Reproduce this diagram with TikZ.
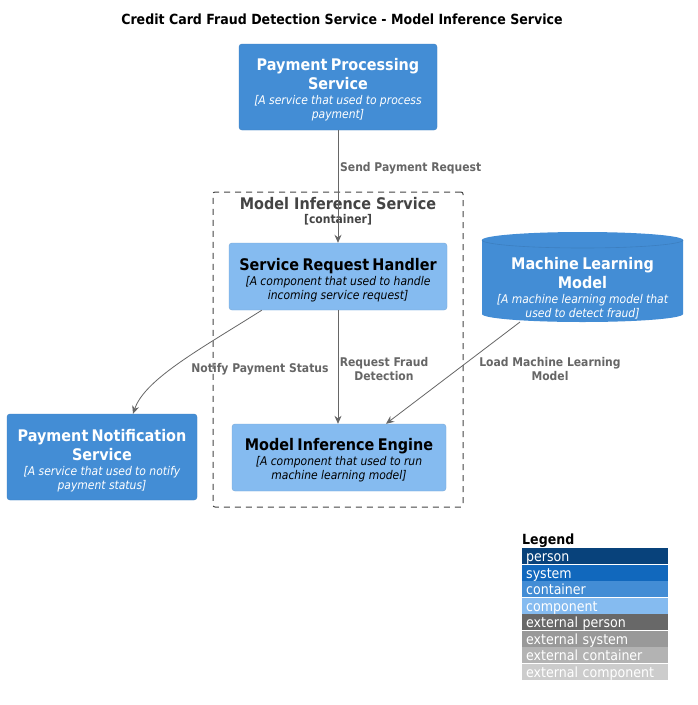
\documentclass[tikz,border=0pt]{standalone}
\usepackage{fontspec}
\setmainfont{DejaVu Sans}[FakeStretch=0.9]
\usetikzlibrary{arrows.meta}
\definecolor{contfill}{HTML}{438DD5}
\definecolor{contline}{HTML}{3C7FC0}
\definecolor{compfill}{HTML}{85BBF0}
\definecolor{compline}{HTML}{78A8D8}
\definecolor{arrowc}{HTML}{666666}
\definecolor{bound}{HTML}{444444}
\definecolor{lgperson}{HTML}{08427B}
\definecolor{lgsystem}{HTML}{1168BD}
\definecolor{lgextperson}{HTML}{686868}
\definecolor{lgextsystem}{HTML}{999999}
\definecolor{lgextcont}{HTML}{B3B3B3}
\definecolor{lgextcomp}{HTML}{CCCCCC}
\newcommand\ttlf{\bfseries\fontsize{16}{19}\selectfont}
\newcommand\dscf{\itshape\fontsize{12}{14}\selectfont}
\tikzset{
  contbox/.style={draw=contline, fill=contfill, text=white, rounded corners=3pt,
    align=center, inner sep=0pt},
  compbox/.style={draw=compline, fill=compfill, text=black, rounded corners=3pt,
    align=center, inner sep=0pt},
  rel/.style={draw=arrowc, line width=0.8pt, -{Stealth[length=8pt,width=7pt]}},
  rellabel/.style={text=arrowc, font=\bfseries\fontsize{12}{14}\selectfont, align=center, inner sep=0pt},
  lgrow/.style={fill=#1, text=white, anchor=north west, minimum width=146pt, minimum height=16pt,
    inner sep=0pt, inner xsep=4pt, text width=138pt, align=left, text height=13pt, text depth=2pt,
    font=\fontsize{14}{16}\selectfont}
}
\begin{document}
\begin{tikzpicture}[x=1pt,y=-1pt]
\useasboundingbox (0,0) rectangle (698,705);
\fill[white] (0,0) rectangle (698,705);

% title
\node[font=\bfseries\fontsize{14}{16}\selectfont, inner sep=0pt] (title) at (342,19)
  {Credit Card Fraud Detection Service - Model Inference Service};

% boundary
\node[draw=bound, dash pattern=on 6pt off 5pt, line width=1pt, minimum width=250pt, minimum height=315pt,
  inner sep=0pt, rounded corners=2pt] (bnd) at (338,349.5) {};
\node[text=bound, font=\bfseries\fontsize{16}{19}\selectfont, inner sep=0pt] (bndt) at (338,204) {Model Inference Service};
\node[text=bound, font=\bfseries\fontsize{12}{14}\selectfont, inner sep=0pt] (bndc) at (338,220) {[container]};

% payment processing service
\node[contbox, minimum width=198pt, minimum height=86pt, text width=190pt] (pps) at (338,87)
  {{\ttlf Payment Processing\\Service\par}\vspace{1pt}{\dscf [A service that used to process\\payment]\par}\vspace{-6pt}};

% service request handler
\node[compbox, minimum width=218pt, minimum height=67pt, text width=212pt] (srh) at (338,276.5)
  {{\ttlf Service Request Handler\par}\vspace{1pt}{\dscf [A component that used to handle\\incoming service request]\par}\vspace{-7pt}};

% model inference engine
\node[compbox, minimum width=214pt, minimum height=67pt, text width=208pt] (mie) at (339,457.5)
  {{\ttlf Model Inference Engine\par}\vspace{1pt}{\dscf [A component that used to run\\machine learning model]\par}\vspace{-5pt}};

% payment notification service
\node[contbox, minimum width=190pt, minimum height=86pt, text width=186pt] (pns) at (102,457)
  {{\ttlf Payment Notification\\Service\par}\vspace{1pt}{\dscf [A service that used to notify\\payment status]\par}\vspace{-7pt}};

% machine learning model (cylinder)
\fill[contfill] (482,240) -- (482,314) arc[start angle=180,end angle=360,x radius=100.5pt,y radius=8pt]
  -- (683,240) arc[start angle=0,end angle=180,x radius=100.5pt,y radius=8pt] -- cycle;
\draw[contline, line width=0.6pt] (482,240) arc[start angle=180,end angle=360,x radius=100.5pt,y radius=8pt];
\node[text=white, align=center, inner sep=0pt, text width=200pt] (mlm) at (582.5,288)
  {{\ttlf Machine Learning\\Model\par}\vspace{1pt}{\dscf [A machine learning model that\\used to detect fraud]\par}};
\coordinate (mlmb) at (520,322);

% relations
\draw[rel] (pps.south) -- (srh.north);
\node[rellabel, anchor=west] (l1) at (340,168) {Send Payment Request};

\draw[rel] (srh.south) -- (srh.south |- mie.north);
\node[rellabel] (l2) at (384,369) {Request Fraud\\Detection};

\draw[rel] ([xshift=33pt]srh.south west) .. controls +(-60,38) and +(12,-35) .. ([xshift=31pt]pns.north);
\node[rellabel] (l3) at (260,369) {Notify Payment Status};

\draw[rel] (mlmb) -- ([xshift=47pt]mie.north);
\node[rellabel] (l4) at (550,369) {Load Machine Learning\\Model};

% legend
\node[font=\bfseries\fontsize{14}{16}\selectfont, anchor=west, inner sep=0pt] (lg) at (522,541) {Legend};
\node[lgrow=lgperson] (lg1) at (522,548) {person};
\node[lgrow=lgsystem] (lg2) at (522,564.5) {system};
\node[lgrow=contfill] (lg3) at (522,581) {container};
\node[lgrow=compfill] (lg4) at (522,597.5) {component};
\node[lgrow=lgextperson] (lg5) at (522,614) {external person};
\node[lgrow=lgextsystem] (lg6) at (522,630.5) {external system};
\node[lgrow=lgextcont] (lg7) at (522,647) {external container};
\node[lgrow=lgextcomp] (lg8) at (522,663.5) {external component};
\end{tikzpicture}
\end{document}
